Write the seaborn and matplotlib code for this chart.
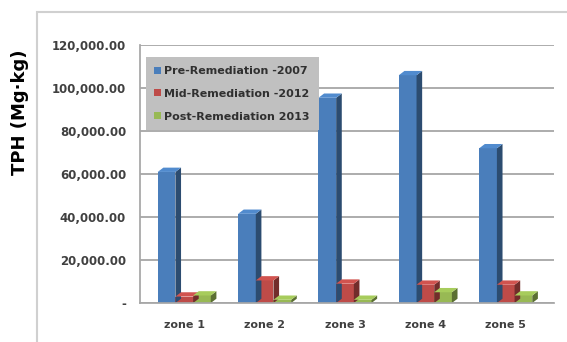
import matplotlib
matplotlib.use("Agg")
import matplotlib.pyplot as plt
import seaborn as sns
import pandas as pd
from matplotlib.patches import Rectangle, Polygon
import matplotlib.colors as mcolors

zones = ["zone 1", "zone 2", "zone 3", "zone 4", "zone 5"]
series = ["Pre-Remediation -2007", "Mid-Remediation -2012", "Post-Remediation 2013"]
pre = [61000, 41500, 95500, 106000, 72000]
mid = [3000, 10500, 9000, 8500, 8500]
post = [3500, 1500, 1500, 5000, 3500]
yticks = [0, 20000, 40000, 60000, 80000, 100000, 120000]
ytick_labels = ["-", "20,000.00", "40,000.00", "60,000.00", "80,000.00", "100,000.00", "120,000.00"]
colors = ["#4A7EBB", "#BE4B48", "#98B954"]

rows = []
for s, vals in zip(series, [pre, mid, post]):
    for z, v in zip(zones, vals):
        rows.append({"zone": z, "series": s, "value": v})
df = pd.DataFrame(rows)

sns.set_theme(style="white")
plt.rcParams["font.family"] = ["DejaVu Sans"]

fig = plt.figure(figsize=(5.67, 3.42), dpi=100)
ax = fig.add_axes([0.247, 0.114, 0.73, 0.754])

sns.barplot(data=df, x="zone", y="value", hue="series", palette=colors,
            width=0.66, ax=ax, saturation=1, edgecolor="none", legend=True)

# pseudo-3D side faces derived from bar patches
dx = 0.07
dy = 2000
for p in list(ax.patches):
    x0, y0 = p.get_x(), p.get_y()
    w, h = p.get_width(), p.get_height()
    if w == 0:
        continue
    c = mcolors.to_rgb(p.get_facecolor())
    dark = tuple(v * 0.6 for v in c)
    light = tuple(min(1, v * 1.1) for v in c)
    ax.add_patch(Polygon([(x0 + w, y0), (x0 + w + dx, y0 + dy), (x0 + w + dx, y0 + h + dy), (x0 + w, y0 + h)],
                         closed=True, facecolor=dark, edgecolor="none", zorder=p.get_zorder()))
    ax.add_patch(Polygon([(x0, y0 + h), (x0 + dx, y0 + h + dy), (x0 + w + dx, y0 + h + dy), (x0 + w, y0 + h)],
                         closed=True, facecolor=light, edgecolor="none", zorder=p.get_zorder()))

ax.set_ylim(0, 120000)
ax.set_xlim(-0.55, 4.6)
ax.set_yticks(yticks)
ax.set_yticklabels(ytick_labels, fontsize=8.5, fontweight="bold", color="#404040")
ax.set_xticklabels(zones, fontsize=8, fontweight="bold", color="#404040")
ax.yaxis.grid(True, color="#A6A6A6", linewidth=1.3)
ax.set_axisbelow(True)
ax.set_xlabel("")
ax.set_ylabel("")
for side in ["top", "right"]:
    ax.spines[side].set_visible(False)
ax.spines["left"].set_color("#A6A6A6")
ax.spines["bottom"].set_color("#A6A6A6")
ax.tick_params(axis="y", length=4, color="#A6A6A6", pad=6)
ax.tick_params(axis="x", length=0, pad=12)

leg = ax.legend(loc="upper left", bbox_to_anchor=(0.0, 0.975), frameon=True, fontsize=8,
                handlelength=0.6, handleheight=0.6, handletextpad=0.3, labelspacing=1.15,
                borderpad=0.8, fancybox=False)
leg.get_frame().set_facecolor("#C0C0C0")
leg.get_frame().set_edgecolor("none")
leg.get_frame().set_alpha(1)
for t in leg.get_texts():
    t.set_fontweight("bold")
    t.set_color("#303030")

fig.text(0.036, 0.672, "TPH (Mg·kg)", rotation=90, fontsize=13, fontweight="bold",
         ha="center", va="center", color="#000000")

fig.patches.append(Rectangle((0.066, -0.01), 0.94, 0.975, transform=fig.transFigure,
                             facecolor="none", edgecolor="#D0D0D0", linewidth=1.5))

fig.savefig("out.png", dpi=100)
